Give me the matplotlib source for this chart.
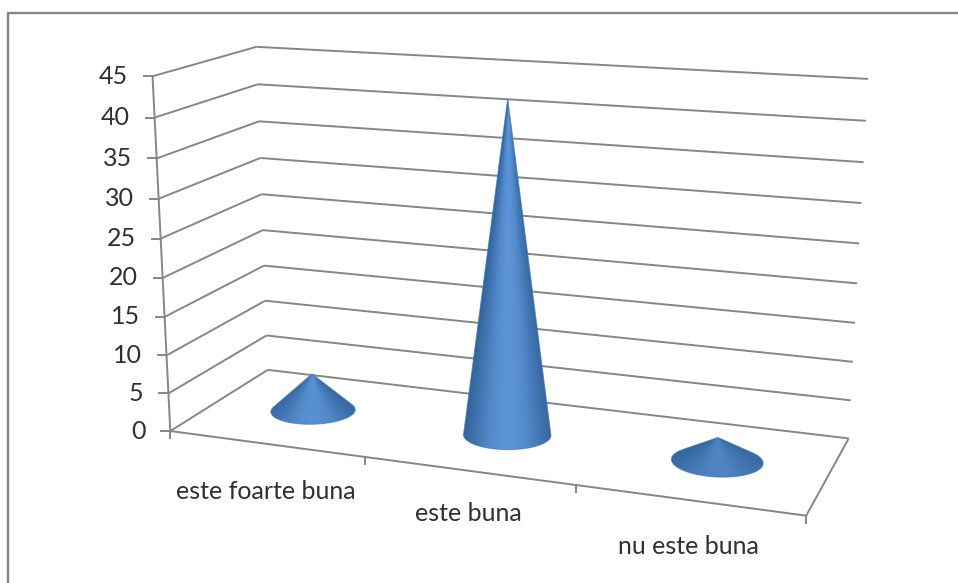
import matplotlib
matplotlib.use('Agg')
import matplotlib.pyplot as plt
import numpy as np
from matplotlib.colors import LinearSegmentedColormap
from matplotlib.patches import Polygon

categories = ['este foarte buna', 'este buna', 'nu este buna']
values = [5, 42.5, 3]
y_ticks = [0, 5, 10, 15, 20, 25, 30, 35, 40, 45]

plt.rcParams['font.family'] = ['Lato', 'DejaVu Sans']

GRID = '#868686'
TEXT = '#303030'
label_drop = [48, 43, 46]
cone_light = [0.95, 1.0, 0.75]

# box corners (across, depth, value) -> where they land in the picture
box = [(0, 0, 0), (1, 0, 0), (0, 1, 0), (1, 1, 0), (0, 0, 45), (0, 1, 45), (1, 1, 45)]
screen = [(171, 431), (806, 516), (267, 370), (849, 438), (152, 76), (257, 47), (868, 79)]

# fit the perspective camera (11 unknowns, last one fixed to 1)
A, b = [], []
for (c, d, v), (sx, sy) in zip(box, screen):
    A.append([c, d, v, 1, 0, 0, 0, 0, -sx * c, -sx * d, -sx * v])
    b.append(sx)
    A.append([0, 0, 0, 0, c, d, v, 1, -sy * c, -sy * d, -sy * v])
    b.append(sy)
cam = np.append(np.linalg.lstsq(np.array(A, float), np.array(b, float), rcond=None)[0], 1).reshape(3, 4)


def project(c, d, v):
    p = cam @ np.array([c, d, v, 1.0])
    return p[0] / p[2], p[1] / p[2]


def line(ax, p0, p1):
    ax.plot([p0[0], p1[0]], [p0[1], p1[1]], color=GRID, lw=1.4, solid_capstyle='butt', zorder=1)


fig = plt.figure(figsize=(9.58, 5.83), dpi=100)
ax = fig.add_axes([0, 0, 1, 1])
ax.set_xlim(0, 958)
ax.set_ylim(583, 0)
ax.axis('off')

# chart frame, only top and left edges show in the picture
ax.plot([8, 8, 958], [583, 12.5, 12.5], color=GRID, lw=1.7, zorder=1)

# walls
for t in y_ticks:
    line(ax, project(0, 0, t), project(0, 1, t))
    line(ax, project(0, 1, t), project(1, 1, t))
    x, y = project(0, 0, t)
    ax.plot([x - 9, x], [y, y], color=GRID, lw=1.4, zorder=1)
    ax.text(x - 25, y, str(t), ha='right', va='center', fontsize=18, color=TEXT)
line(ax, project(0, 0, 0), project(0, 0, 45))

# floor
line(ax, project(0, 0, 0), project(1, 0, 0))
line(ax, project(1, 0, 0), project(1, 1, 0))
for i in range(len(categories) + 1):
    x, y = project(i / 3, 0, 0)
    ax.plot([x, x], [y, y + 7], color=GRID, lw=1.4, zorder=1)

cone_cmap = LinearSegmentedColormap.from_list('cone', ['#33649a', '#4277b3', '#5b93d6'])

for i, val in enumerate(values):
    c = (i + 0.5) / 3
    apex = np.array(project(c, 0.5, val))

    # rim of the base, front half runs through the middle of the array
    th = np.linspace(-np.pi / 2, 3 * np.pi / 2, 361)
    rim = np.array([project(c + 0.068 * np.cos(a), 0.5 - 0.2 * np.sin(a), 0) for a in th])
    ang = np.arctan2(rim[:, 0] - apex[0], rim[:, 1] - apex[1])
    lo, hi = sorted((int(np.argmin(ang)), int(np.argmax(ang))))
    outline = np.vstack([apex, rim[lo:hi + 1]])

    # shade by the direction seen from the apex, so it fans out like the cone
    x0, x1 = outline[:, 0].min() - 2, outline[:, 0].max() + 2
    y0, y1 = outline[:, 1].min() - 2, outline[:, 1].max() + 2
    gx, gy = np.meshgrid(np.linspace(x0, x1, 300), np.linspace(y0, y1, 600))
    u = np.arctan2(gx - apex[0], gy - apex[1]) / np.abs(ang[[lo, hi]]).max()
    shade = np.cos(np.clip(u, -1, 1) * np.pi / 2) ** 0.9 * cone_light[i]
    im = ax.imshow(shade, extent=(x0, x1, y1, y0), cmap=cone_cmap, vmin=0, vmax=1,
                   aspect='auto', zorder=3, interpolation='bilinear')
    patch = Polygon(outline, closed=True, facecolor='none', edgecolor='none', transform=ax.transData)
    ax.add_patch(patch)
    im.set_clip_path(patch)
    ax.add_patch(Polygon(outline, closed=True, facecolor='none', edgecolor='#4277b3', lw=0.7, alpha=0.7, zorder=4))

    x, y = project(c, 0, 0)
    ax.text(x, y + label_drop[i], categories[i], ha='center', va='center', fontsize=18, color=TEXT)

ax.set_xlim(0, 958)
ax.set_ylim(583, 0)
fig.savefig('out.png', dpi=100)
